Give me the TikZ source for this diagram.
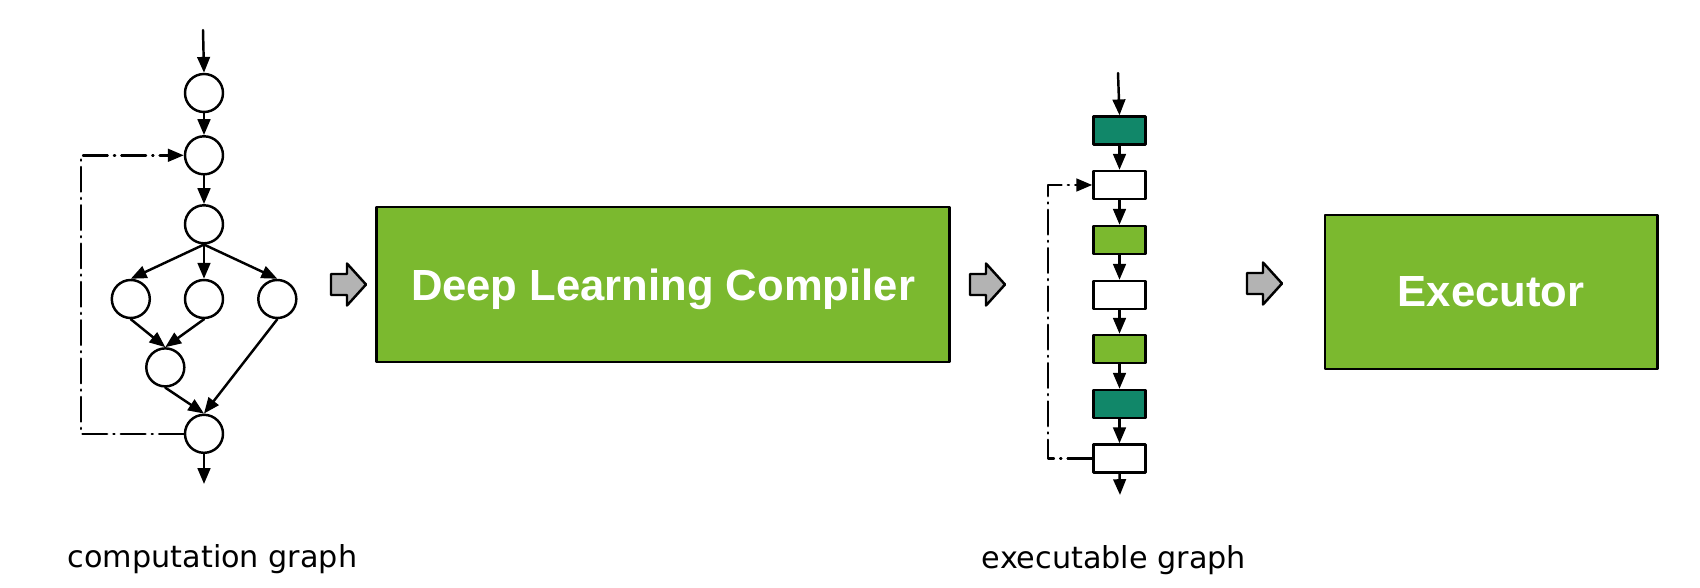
\documentclass[tikz,border=0pt]{standalone}
\usepackage{fontspec}
\setmainfont{DejaVu Sans}
\newfontfamily\boxfont{Liberation Sans}
\usetikzlibrary{arrows.meta,positioning}
\definecolor{StageGreen}{HTML}{7BB92F}
\definecolor{KernelTeal}{HTML}{118769}
\definecolor{ArrowGray}{HTML}{B3B3B3}

\begin{document}
\begin{tikzpicture}[x=0.01cm,y=-0.01cm,line cap=round,line join=round,
  every node/.style={inner sep=0pt},
  op/.style={circle,draw,line width=0.7pt,minimum size=0.38cm},
  kernel/.style={rectangle,draw,line width=0.7pt,minimum width=0.52cm,minimum height=0.28cm},
  flow/.style={line width=0.7pt,-{Triangle[length=4.5pt,width=3.6pt]}},
  back/.style={line width=0.7pt,dash pattern=on 7pt off 1.8pt on 0.3pt off 1.8pt,-{Triangle[length=4.5pt,width=3.6pt]}},
  stage/.style={rectangle,draw,line width=0.8pt,fill=StageGreen,text=white,text depth=0pt,font={\boxfont\bfseries\fontsize{12.4}{15}\selectfont}},
  caption/.style={anchor=base,font={\fontsize{8.6}{10}\selectfont}},
  blockarrow/.pic={\draw[line width=0.7pt,fill=ArrowGray] (0,-10.5) -- (16,-10.5) -- (16,-21) -- (35,0) -- (16,21) -- (16,10.5) -- (0,10.5) -- cycle;}]
  \useasboundingbox (0,0) rectangle (1700,588);

  \node[op] (n1) at (204,93) {};
  \node[op] (n2) at (204,155.3) {};
  \node[op] (n3) at (204,224.3) {};
  \node[op] (n4) at (130.8,299) {};
  \node[op] (n5) at (204,299) {};
  \node[op] (n6) at (277.3,299) {};
  \node[op] (n7) at (165.3,367.4) {};
  \node[op] (n8) at (204,433.8) {};
  \coordinate (cgin) at (203,30);
  \coordinate (cgout) at (204,484);
  \coordinate (cgback) at (81,300);
  \draw[flow] (cgin) -- (n1.north);
  \foreach \a/\b in {n1/n2,n2/n3,n3/n4,n3/n5,n3/n6,n4/n7,n5/n7,n7/n8,n6/n8}
    \draw[flow] (\a.south) -- (\b.north);
  \draw[flow] (n8.south) -- (cgout);
  \draw[back] (n8.west) -| (cgback) |- (n2.west);

  \pic at (331,284.5) {blockarrow};
  \node[stage,minimum width=5.72cm,minimum height=1.55cm] (compiler) at (663,284.5) {Deep Learning Compiler};
  \pic at (970,284.5) {blockarrow};

  \foreach \i/\y/\c in {1/130.5/KernelTeal,2/185/white,3/240/StageGreen,4/295/white,5/349/StageGreen,6/404/KernelTeal,7/458.5/white}
    \node[kernel,fill=\c] (k\i) at (1119.5,\y) {};
  \coordinate (egin) at (1118,73);
  \coordinate (egout) at (1120,495);
  \coordinate (egback) at (1048,300);
  \draw[flow] (egin) -- (k1.north);
  \foreach \a/\b in {k1/k2,k2/k3,k3/k4,k4/k5,k5/k6,k6/k7}
    \draw[flow] (\a.south) -- (\b.north);
  \draw[flow] (k7.south) -- (egout);
  \draw[back] (k7.west) -| (egback) |- (k2.west);

  \pic at (1247,283.5) {blockarrow};
  \node[stage,minimum width=3.32cm,minimum height=1.54cm] (executor) at (1491,292) {Executor};

  \node[caption] (cglabel) at (212.5,567) {computation graph};
  \node[caption] (eglabel) at (1114,568) {executable graph};
\end{tikzpicture}
\end{document}
